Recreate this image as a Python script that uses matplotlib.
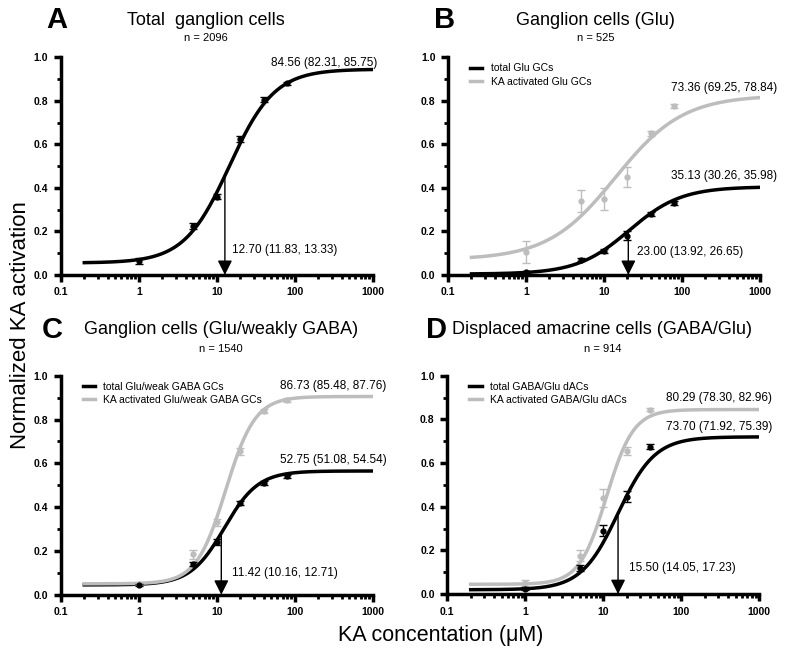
import numpy as np
import matplotlib
matplotlib.use("Agg")
import matplotlib.pyplot as plt

plt.rcParams['font.family'] = ['Liberation Sans', 'DejaVu Sans']

# Data
conc = [1, 5, 10, 20, 40, 80]
conc_d = [1, 5, 10, 20, 40]

a_total = [0.065, 0.225, 0.36, 0.625, 0.805, 0.88]
a_total_err = [0.015, 0.015, 0.01, 0.015, 0.01, 0.008]

b_total = [0.015, 0.07, 0.11, 0.18, 0.28, 0.33]
b_total_err = [0.005, 0.008, 0.008, 0.02, 0.01, 0.008]
b_act = [0.105, 0.34, 0.35, 0.45, 0.65, 0.775]
b_act_err = [0.05, 0.05, 0.05, 0.045, 0.01, 0.01]

c_total = [0.045, 0.14, 0.24, 0.42, 0.51, 0.54]
c_total_err = [0.005, 0.01, 0.015, 0.01, 0.008, 0.008]
c_act = [0.05, 0.185, 0.33, 0.655, 0.84, 0.89]
c_act_err = [0.005, 0.02, 0.015, 0.015, 0.01, 0.008]

d_total = [0.025, 0.12, 0.29, 0.445, 0.675]
d_total_err = [0.008, 0.015, 0.025, 0.025, 0.01]
d_act = [0.05, 0.175, 0.44, 0.655, 0.845]
d_act_err = [0.015, 0.025, 0.04, 0.02, 0.008]

# Fitted Hill parameters: bottom, top, EC50, slope
a_fit = (0.055, 0.945, 14.5, 1.5)
b_total_fit = (0.004, 0.405, 21.0, 1.3)
b_act_fit = (0.07, 0.825, 14.0, 1.0)
c_total_fit = (0.045, 0.565, 12.5, 2.0)
c_act_fit = (0.05, 0.905, 13.0, 2.3)
d_total_fit = (0.02, 0.72, 15.5, 1.84)
d_act_fit = (0.045, 0.845, 11.0, 2.5)

GRAY = "#bdbdbd"


def hill(x, p):
    b, t, ec, n = p
    return b + (t - b) / (1 + (ec / x) ** n)


def style(ax):
    ax.set_xscale('log')
    ax.set_xlim(0.1, 1000)
    ax.set_ylim(0, 1.0)
    for s in ['top', 'right']:
        ax.spines[s].set_visible(False)
    for s in ['left', 'bottom']:
        ax.spines[s].set_linewidth(2.5)
    ax.set_yticks([0, 0.2, 0.4, 0.6, 0.8, 1.0])
    ax.set_yticklabels(["0.0", "0.2", "0.4", "0.6", "0.8", "1.0"])
    ax.set_yticks(np.arange(0.1, 1.0, 0.2), minor=True)
    ax.set_xticks([0.1, 1, 10, 100, 1000])
    ax.set_xticklabels(["0.1", "1", "10", "100", "1000"])
    ax.tick_params(which='major', length=5, width=2.5, labelsize=7.5, pad=4)
    ax.tick_params(which='minor', length=3, width=2)
    for lab in ax.get_xticklabels() + ax.get_yticklabels():
        lab.set_fontweight('bold')


def curve(ax, p, color, label=None):
    xs = np.logspace(np.log10(0.2), 3, 300)
    ax.plot(xs, hill(xs, p), color=color, lw=2.5, label=label, zorder=3)


def points(ax, x, y, e, color):
    ax.errorbar(x, y, yerr=e, fmt='o', ms=3.5, color=color, ecolor=color,
                elinewidth=1, capsize=3, zorder=4)


def arrow(ax, xv, p):
    ax.annotate("", xy=(xv, 0.0), xytext=(xv, hill(xv, p)),
                arrowprops=dict(arrowstyle='-|>', color='black', lw=1,
                                mutation_scale=22, shrinkA=0, shrinkB=0),
                zorder=5)


def head(ax, letter, lx, title, tx, ty, n, ny):
    ax.text(lx, ty, letter, transform=ax.transAxes, fontsize=21,
            fontweight='bold', ha='center', va='center')
    ax.text(tx, ty, title, transform=ax.transAxes, fontsize=13,
            ha='center', va='center')
    ax.text(tx, ny, n, transform=ax.transAxes, fontsize=8,
            ha='center', va='center')


fig = plt.figure(figsize=(8, 6.5), dpi=100)
axA = fig.add_axes([0.076, 0.577, 0.39, 0.335])
axB = fig.add_axes([0.56, 0.577, 0.39, 0.335])
axC = fig.add_axes([0.076, 0.085, 0.39, 0.337])
axD = fig.add_axes([0.559, 0.086, 0.39, 0.336])

# A
curve(axA, a_fit, 'black')
points(axA, conc, a_total, a_total_err, 'black')
arrow(axA, 12.7, a_fit)
axA.text(1150, 0.975, "84.56 (82.31, 85.75)", ha='right', va='center', fontsize=8.5)
axA.text(15.5, 0.115, "12.70 (11.83, 13.33)", ha='left', va='center', fontsize=8.5)
head(axA, "A", -0.013, "Total  ganglion cells", 0.465, 1.17, "n = 2096", 1.087)

# B
curve(axB, b_total_fit, 'black', "total Glu GCs")
curve(axB, b_act_fit, GRAY, "KA activated Glu GCs")
points(axB, conc, b_act, b_act_err, GRAY)
points(axB, conc, b_total, b_total_err, 'black')
arrow(axB, 20.5, b_total_fit)
axB.text(1650, 0.86, "73.36 (69.25, 78.84)", ha='right', va='center', fontsize=8.5)
axB.text(1650, 0.455, "35.13 (30.26, 35.98)", ha='right', va='center', fontsize=8.5)
axB.text(26.5, 0.105, "23.00 (13.92, 26.65)", ha='left', va='center', fontsize=8.5)
head(axB, "B", -0.01, "Ganglion cells (Glu)", 0.474, 1.17, "n = 525", 1.087)

# C
curve(axC, c_total_fit, 'black', "total Glu/weak GABA GCs")
curve(axC, c_act_fit, GRAY, "KA activated Glu/weak GABA GCs")
points(axC, conc, c_act, c_act_err, GRAY)
points(axC, conc, c_total, c_total_err, 'black')
arrow(axC, 11.42, c_total_fit)
axC.text(1500, 0.955, "86.73 (85.48, 87.76)", ha='right', va='center', fontsize=8.5)
axC.text(1500, 0.617, "52.75 (51.08, 54.54)", ha='right', va='center', fontsize=8.5)
axC.text(15.5, 0.10, "11.42 (10.16, 12.71)", ha='left', va='center', fontsize=8.5)
head(axC, "C", -0.026, "Ganglion cells (Glu/weakly GABA)", 0.513, 1.21, "n = 1540", 1.12)

# D
curve(axD, d_total_fit, 'black', "total GABA/Glu dACs")
curve(axD, d_act_fit, GRAY, "KA activated GABA/Glu dACs")
points(axD, conc_d, d_act, d_act_err, GRAY)
points(axD, conc_d, d_total, d_total_err, 'black')
arrow(axD, 15.5, d_total_fit)
axD.text(1470, 0.90, "80.29 (78.30, 82.96)", ha='right', va='center', fontsize=8.5)
axD.text(1470, 0.765, "73.70 (71.92, 75.39)", ha='right', va='center', fontsize=8.5)
axD.text(21.5, 0.12, "15.50 (14.05, 17.23)", ha='left', va='center', fontsize=8.5)
head(axD, "D", -0.035, "Displaced amacrine cells (GABA/Glu)", 0.497, 1.21, "n = 914", 1.12)

for ax in [axA, axB, axC, axD]:
    style(ax)

for ax in [axB, axC, axD]:
    ax.legend(loc='upper left', bbox_to_anchor=(0.05, 1.0), frameon=False,
              fontsize=7.5, handlelength=1.2, handletextpad=0.8,
              labelspacing=0.3, borderaxespad=0.2)

fig.text(0.026, 0.5, "Normalized KA activation", rotation=90, fontsize=16,
         ha='center', va='center')
fig.text(0.551, 0.023, "KA concentation (\u03bcM)", fontsize=15.5,
         ha='center', va='center')

fig.savefig("out.png", dpi=100)
